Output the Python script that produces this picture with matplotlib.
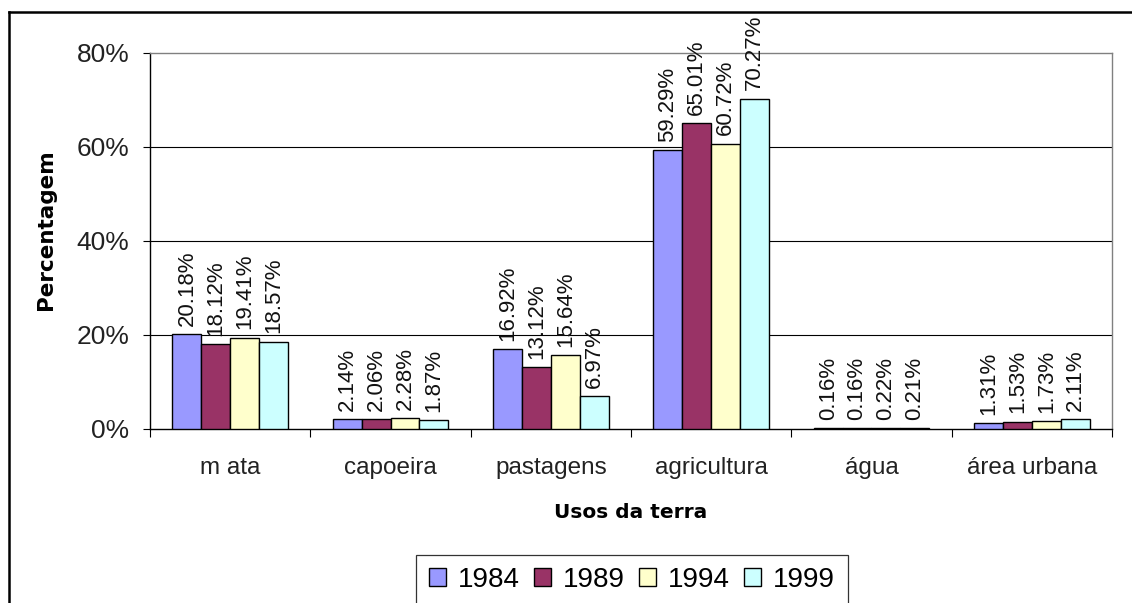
import numpy as np
import matplotlib.pyplot as plt
from matplotlib.lines import Line2D

plt.rcParams['font.family'] = ['Liberation Sans', 'DejaVu Sans']

categories = ['m ata', 'capoeira', 'pastagens', 'agricultura', 'água', 'área urbana']
years = ['1984', '1989', '1994', '1999']
v1984 = [20.18, 2.14, 16.92, 59.29, 0.16, 1.31]
v1989 = [18.12, 2.06, 13.12, 65.01, 0.16, 1.53]
v1994 = [19.41, 2.28, 15.64, 60.72, 0.22, 1.73]
v1999 = [18.57, 1.87, 6.97, 70.27, 0.21, 2.11]
colors = ['#9999FF', '#993366', '#FFFFCC', '#CCFFFF']
yticks = [0, 20, 40, 60, 80]

W, H = 1132, 603


def main():
    fig = plt.figure(figsize=(W / 100, H / 100), dpi=100)
    ax = fig.add_axes([150 / W, 1 - 429 / H, 962 / W, 376 / H])

    series = [v1984, v1989, v1994, v1999]
    x = np.arange(len(categories))
    bw = 0.18
    bars = []
    for i, (vals, col, yr) in enumerate(zip(series, colors, years)):
        pos = x + (i - 1.5) * bw
        b = ax.bar(pos, vals, bw, color=col, edgecolor='black',
                   linewidth=1.0, label=yr, zorder=3)
        bars.append(b)
        for px, v in zip(pos, vals):
            ax.annotate(f'{v:.2f}%', (px, v), xytext=(0, 6),
                        textcoords='offset points', rotation=90,
                        ha='center', va='bottom', fontsize=16, zorder=4,
                        color='#111111')

    # horizontal gridlines inside the plot area
    for t in yticks[1:-1]:
        ax.axhline(t, color='black', linewidth=0.8, zorder=1)

    ax.set_xlim(-0.5, len(categories) - 0.5)
    ax.set_ylim(0, 80)
    ax.set_yticks(yticks)
    ax.set_yticklabels([f'{t}%' for t in yticks])
    ax.tick_params(axis='y', length=5, width=0.8, pad=10, labelsize=19,
                   direction='out', labelcolor='#222222')

    ax.set_xticks(x)
    ax.set_xticklabels(categories)
    ax.set_xticks(np.arange(len(categories) + 1) - 0.5, minor=True)
    ax.tick_params(axis='x', which='major', length=0, pad=20, labelsize=17.5,
                   labelcolor='#222222')
    ax.tick_params(axis='x', which='minor', length=6, width=0.8,
                   direction='out')

    for s in ['left', 'bottom']:
        ax.spines[s].set_color('black')
        ax.spines[s].set_linewidth(1.0)
    for s in ['top', 'right']:
        ax.spines[s].set_color('#808080')
        ax.spines[s].set_linewidth(1.0)

    fig.text(46 / W, 1 - 230 / H, 'Percentagem', rotation=90, ha='center',
             va='center', fontsize=15.5, fontweight='bold',
             family='DejaVu Sans')
    fig.text(631 / W, 1 - 512 / H, 'Usos da terra', ha='center',
             va='center', fontsize=14.5, fontweight='bold',
             family='DejaVu Sans')

    leg = fig.legend(handles=bars, labels=years, loc='center',
                     bbox_to_anchor=(632 / W, 1 - 580 / H), ncol=4,
                     fontsize=20, frameon=True, fancybox=False,
                     handlelength=0.6, handleheight=0.6, handletextpad=0.45,
                     columnspacing=0.5, borderpad=0.45, borderaxespad=0)
    leg.get_frame().set_edgecolor('black')
    leg.get_frame().set_linewidth(0.9)

    # outer chart border
    fig.add_artist(Line2D([8.5 / W, 8.5 / W], [0, 1 - 11.5 / H],
                          transform=fig.transFigure, color='black', lw=1.8))
    fig.add_artist(Line2D([8.5 / W, 1], [1 - 11.5 / H, 1 - 11.5 / H],
                          transform=fig.transFigure, color='black', lw=1.8))

    fig.savefig('out.png', dpi=100)


main()
